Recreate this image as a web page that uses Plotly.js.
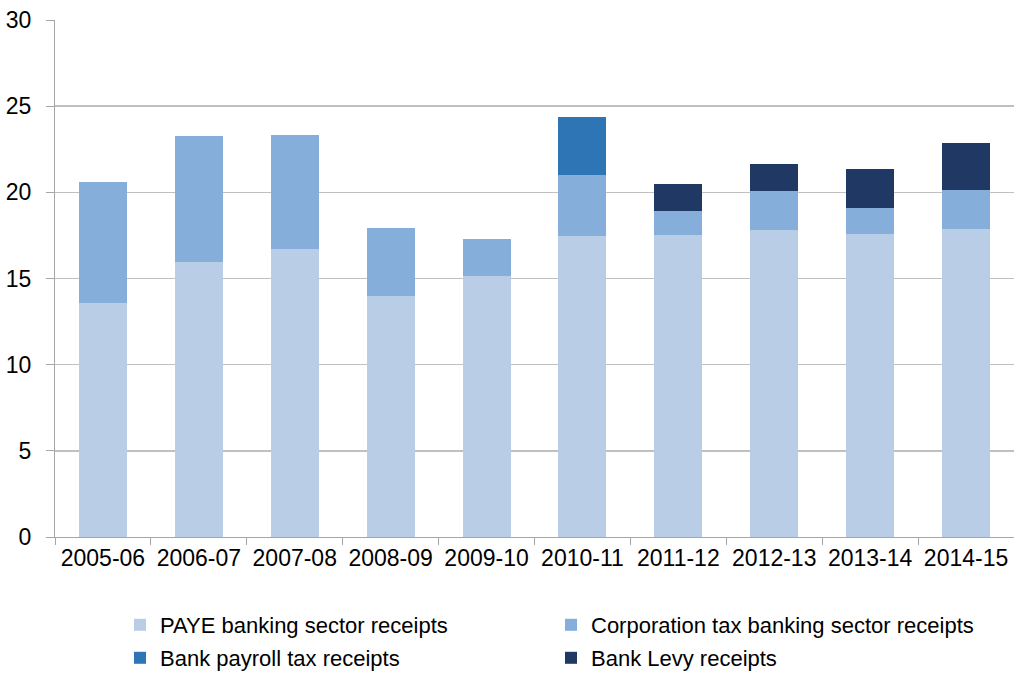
<!DOCTYPE html>
<html><head><meta charset="utf-8">
<script src="https://cdn.plot.ly/plotly-3.0.1.min.js"></script>
<style>html,body{margin:0;padding:0;background:#fff}#c{width:1014px;height:673px}</style>
</head><body><div id="c"></div>
<script>
const years = ["2005-06","2006-07","2007-08","2008-09","2009-10","2010-11","2011-12","2012-13","2013-14","2014-15"];
const paye = [13.6,15.95,16.7,14.0,15.15,17.45,17.55,17.8,17.6,17.85];
const corpTax = [7.0,7.3,6.65,3.95,2.15,3.55,1.35,2.25,1.5,2.3];
const payrollTax = [0,0,0,0,0,3.4,0,0,0,0];
const bankLevy = [0,0,0,0,0,0,1.6,1.6,2.25,2.7];
const yTicks = [0,5,10,15,20,25,30];

const font = {family:"Liberation Sans, Arial, sans-serif", color:"#000"};
function tr(name, y, color, leg){
  return {type:"bar", name:name, x:years, y:y, legend:leg, marker:{color:color, line:{width:0}}, hoverinfo:"x+y"};
}
const data = [
  tr("PAYE banking sector receipts", paye, "#B9CEE6", "legend"),
  tr("Corporation tax banking sector receipts", corpTax, "#85AEDB", "legend2"),
  tr("Bank payroll tax receipts", payrollTax, "#2E75B6", "legend3"),
  tr("Bank Levy receipts", bankLevy, "#1F3864", "legend4")
];
function leg(xpx, ypx){
  return {xref:"container", yref:"container", x:xpx/1014, y:1-ypx/673, xanchor:"left", yanchor:"middle",
    orientation:"v", bgcolor:"rgba(0,0,0,0)", borderwidth:0, itemwidth:30,
    font:Object.assign({size:22}, font)};
}
const layout = {
  width:1014, height:673,
  margin:{l:55, r:0, t:20, b:136, autoexpand:false},
  barmode:"stack", bargap:0.5,
  paper_bgcolor:"#fff", plot_bgcolor:"#fff",
  font:Object.assign({size:22}, font),
  showlegend:true,
  legend:leg(120,625), legend2:leg(551,625), legend3:leg(120,658), legend4:leg(551,658),
  xaxis:{type:"category", showgrid:false, showline:true, linecolor:"#A6A6A6", linewidth:1,
    ticks:"outside", tickson:"boundaries", ticklen:7, tickcolor:"#A6A6A6", tickangle:0,
    tickfont:Object.assign({size:23}, font), fixedrange:true},
  yaxis:{range:[0,30], tickvals:yTicks, showgrid:true, gridcolor:"#BFBFBF", gridwidth:1.5,
    showline:true, linecolor:"#A6A6A6", linewidth:1, ticks:"outside", ticklen:8, tickcolor:"#A6A6A6",
    ticklabelstandoff:10,
    tickfont:Object.assign({size:23}, font), zeroline:false, fixedrange:true}
};
Plotly.newPlot("c", data, layout, {displayModeBar:false, staticPlot:true});
</script></body></html>
